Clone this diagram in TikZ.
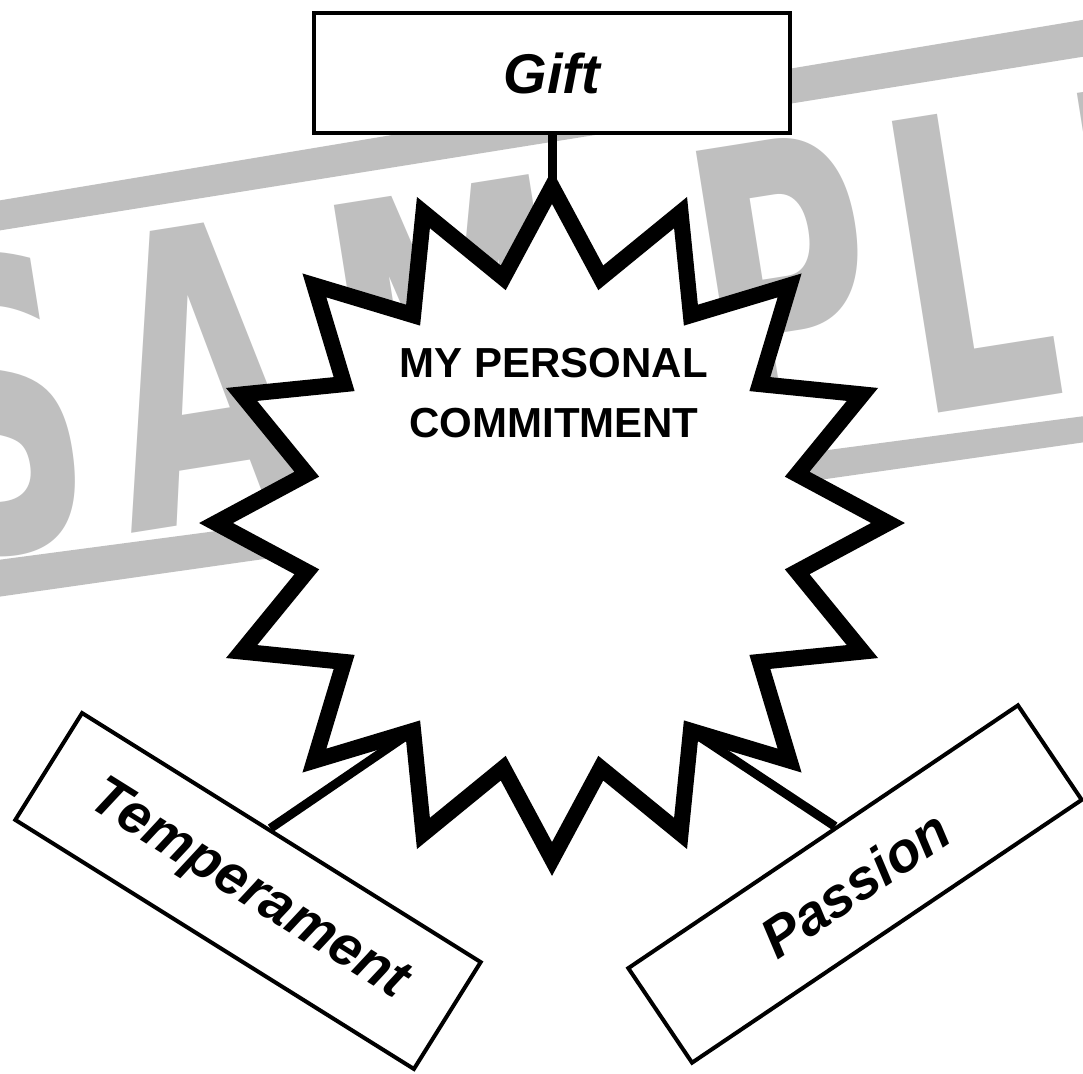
\documentclass[tikz,border=0pt]{standalone}
\usepackage{fontspec}
\setmainfont{Liberation Sans}
\newfontfamily\stampfont{DejaVu Sans}
\usetikzlibrary{positioning, calc, backgrounds}
\definecolor{stampgray}{gray}{0.75}

\begin{document}
\begin{tikzpicture}[x=1pt, y=-1pt, line join=miter,
  giftbox/.style={draw, line width=4.5pt, fill=white, minimum width=476pt, minimum height=120pt, font=\fontsize{56}{60}\selectfont\bfseries\itshape},
  sidebox/.style={draw, line width=4pt, fill=white, minimum width=470pt, font=\fontsize{56}{60}\selectfont\bfseries\itshape},
  burst/.style={draw, fill=white, line width=16pt, miter limit=10},
  link/.style={line width=9pt},
  stampletter/.style={text=stampgray, inner sep=0pt, rotate=9, xscale=0.6, font=\stampfont\fontsize{405}{405}\selectfont\bfseries}]
  \useasboundingbox (0,0) rectangle (1083,1073);

  \coordinate (ctr) at (552,523);
  \coordinate (tipN) at (552,187);
  \coordinate (innerL) at (413,731);
  \coordinate (innerR) at (691,731);

  \draw[burst] (tipN) \foreach \k in {1,...,31}{
    -- ({552+ifthenelse(isodd(\k),250,336)*sin(\k*11.25)}, {523-ifthenelse(isodd(\k),250,336)*cos(\k*11.25)})
  } -- cycle;
  \node[font=\fontsize{42}{60}\selectfont\bfseries, align=center] (commit) at (554,393) {MY PERSONAL\\COMMITMENT};

  \node[giftbox] (gift) at (552,73) {Gift};
  \node[sidebox, minimum height=126pt, rotate=-32] (temper) at (248,891) {Temperament};
  \node[sidebox, minimum height=114pt, rotate=34] (passion) at (855,884) {Passion};

  \begin{pgfonlayer}{background}
    \fill[white] (0,0) rectangle (1083,1073);
    \begin{scope}
      \clip (0,0) rectangle (1083,1073);
      \fill[stampgray] (-10,202) -- (1100,17) -- (1100,54) -- (-10,232) -- cycle;
      \fill[stampgray] (-10,561) -- (1100,414) -- (1100,440) -- (-10,598) -- cycle;
      \foreach \ch/\px/\py in {S/-5/404, A/200/373, M/455/336, P/785/287, L/970/259, E/1160/230}
        \node[stampletter] (stamp\ch) at (\px,\py) {\ch};
    \end{scope}
    \draw[link] (gift.south) -- (tipN);
    \draw[link] (innerL) -- ($(temper.north west)!0.47!(temper.north east)$);
    \draw[link] (innerR) -- ($(passion.north west)!0.533!(passion.north east)$);
  \end{pgfonlayer}
\end{tikzpicture}
\end{document}
